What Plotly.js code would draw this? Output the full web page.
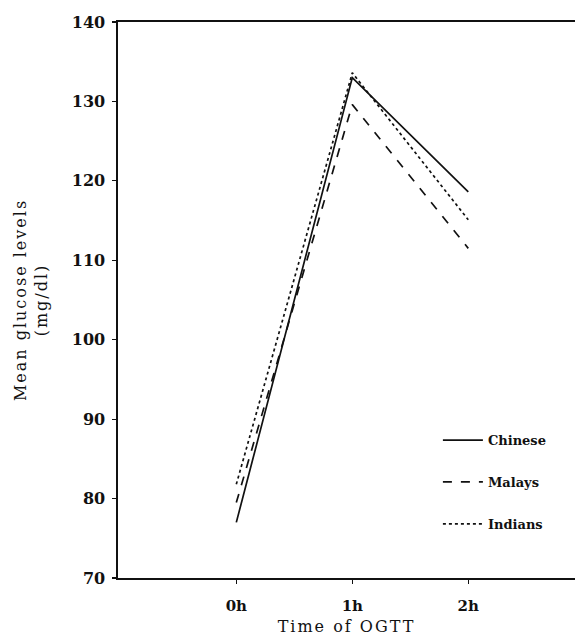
<!DOCTYPE html>
<html>
<head>
<meta charset="utf-8">
<script src="https://cdn.plot.ly/plotly-3.0.1.min.js"></script>
<style>
html,body{margin:0;padding:0;background:#fff;}
#chart{width:575px;height:641px;}
.xtitle,.ytitle{letter-spacing:2px;}
</style>
</head>
<body>
<div id="chart"></div>
<script>
const timeLabels = ["0h", "1h", "2h"];
const timePositions = [0, 1, 2];
const chinese = [77.0, 133.0, 118.6];
const malays = [79.5, 129.6, 111.5];
const indians = [81.8, 133.6, 115.1];

const seriesNames = ["Chinese", "Malays", "Indians"];
const seriesValues = [chinese, malays, indians];
const dashes = ["solid", "dash", "dot"];

const traces = seriesValues.map((vals, i) => ({
  x: timePositions,
  y: vals,
  type: "scatter",
  mode: "lines",
  name: seriesNames[i],
  legendgroup: "g" + i,
  line: {color: "#111", width: 1.7, dash: dashes[i]}
}));

const fam = "DejaVu Serif, Liberation Serif, serif";

const layout = {
  width: 575,
  height: 641,
  margin: {l: 118, r: 0, t: 22, b: 63},
  paper_bgcolor: "#fff",
  plot_bgcolor: "#fff",
  showlegend: true,
  font: {family: fam, color: "#111"},
  xaxis: {
    range: [-1.02, 2.92],
    tickvals: timePositions,
    ticktext: timeLabels,
    ticks: "outside",
    ticklen: 4,
    tickwidth: 1.2,
    tickcolor: "#111",
    ticklabelstandoff: 9,
    showline: true,
    linecolor: "#111",
    linewidth: 1.6,
    mirror: true,
    showgrid: false,
    zeroline: false,
    tickfont: {family: fam, size: 15, weight: "bold", color: "#111"},
    title: {text: "Time of OGTT", font: {family: fam, size: 16, color: "#111"}, standoff: 7}
  },
  yaxis: {
    range: [70, 140],
    tickvals: [70, 80, 90, 100, 110, 120, 130, 140],
    ticks: "outside",
    ticklen: 4,
    tickwidth: 1.2,
    tickcolor: "#111",
    ticklabelstandoff: 4,
    showline: true,
    linecolor: "#111",
    linewidth: 1.6,
    showgrid: false,
    zeroline: false,
    tickfont: {family: fam, size: 16, weight: "bold", color: "#111"},
    title: {text: "Mean glucose levels<br>(mg/dl)", font: {family: fam, size: 16, color: "#111"}, standoff: 20}
  },
  legend: {
    x: 0.70, y: 0.275, xanchor: "left", yanchor: "top",
    bgcolor: "rgba(0,0,0,0)",
    traceorder: "grouped",
    tracegroupgap: 22,
    itemwidth: 40,
    font: {family: fam, size: 13, weight: "bold", color: "#111"}
  }
};

Plotly.newPlot("chart", traces, layout, {displayModeBar: false, staticPlot: true});
</script>
</body>
</html>
